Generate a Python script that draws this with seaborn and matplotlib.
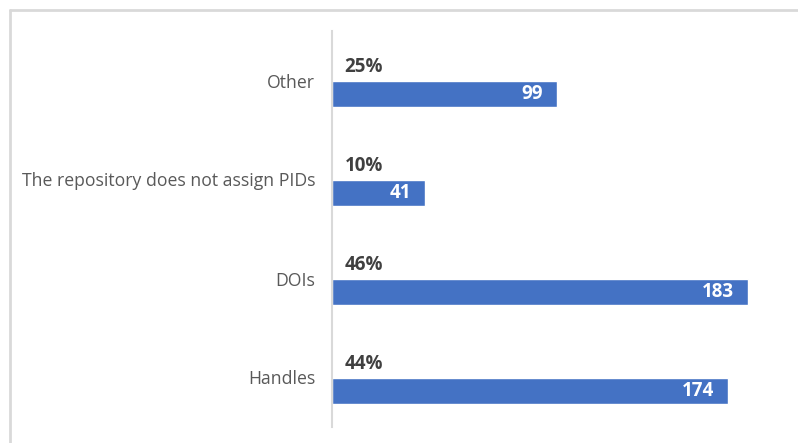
import matplotlib
matplotlib.use("Agg")
import matplotlib.pyplot as plt
from matplotlib.lines import Line2D
import seaborn as sns
import pandas as pd

categories = ["Other", "The repository does not assign PIDs", "DOIs", "Handles"]
counts = [99, 41, 183, 174]
percents = [25, 10, 46, 44]

sns.set_theme(style="white")
plt.rcParams["font.family"] = ["Open Sans", "DejaVu Sans"]

# Two series per category: a zero-length "share" bar that carries the
# percentage label, and the visible count bar just below it.
df = pd.DataFrame({
    "category": categories * 2,
    "series": ["share"] * len(categories) + ["count"] * len(categories),
    "value": [0] * len(categories) + counts,
})

fig = plt.figure(figsize=(7.98, 4.43), dpi=100)
ax = fig.add_axes([332 / 798, 1 - 427 / 443, 455 / 798, 396 / 443])

sns.barplot(data=df, y="category", x="value", hue="series",
            hue_order=["share", "count"], order=categories,
            palette={"share": "#4472C4", "count": "#4472C4"},
            width=0.53, orient="h", ax=ax, legend=False, saturation=1)

ax.set_xlim(0, 200)
ax.set_ylim(3.5, -0.5)
ax.set_xlabel("")
ax.set_ylabel("")
ax.set_xticks([])
ax.tick_params(axis="y", length=0, pad=12, labelsize=12.7, labelcolor="#595959")

for side in ["top", "right", "bottom"]:
    ax.spines[side].set_visible(False)
ax.spines["left"].set_color("#D9D9D9")
ax.spines["left"].set_linewidth(1.5)

share_bars, count_bars = ax.containers[0], ax.containers[1]
ax.bar_label(share_bars, labels=[f"{p}%" for p in percents], label_type="edge",
             padding=9, fontsize=13.5, fontweight="bold", color="#404040")
ax.bar_label(count_bars, labels=[str(c) for c in counts], label_type="edge",
             padding=-10, fontsize=13.5, fontweight="bold", color="white")
for t in ax.texts[len(percents):]:
    t.set_ha("right")

# Light outline along the left and top of the chart area
border = dict(transform=fig.transFigure, color="#D9D9D9", linewidth=2)
fig.lines.append(Line2D([10 / 798, 10 / 798], [0, 1 - 10 / 443], **border))
fig.lines.append(Line2D([10 / 798, 1], [1 - 10 / 443, 1 - 10 / 443], **border))

fig.savefig("out.png", dpi=100)
